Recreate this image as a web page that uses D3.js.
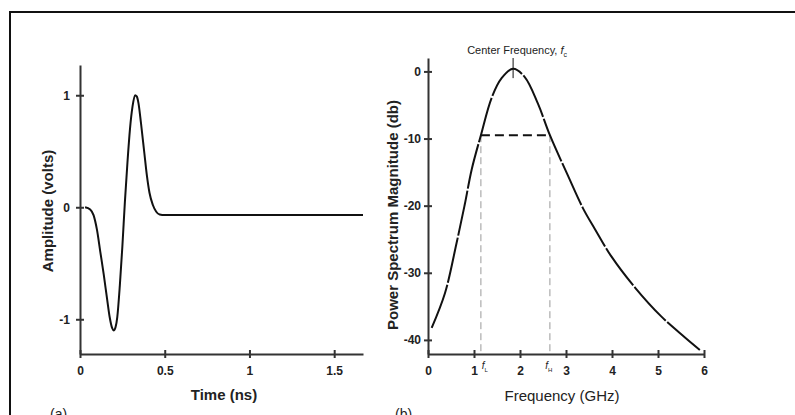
<!DOCTYPE html>
<meta charset="utf-8">
<style>
body { margin: 0; background: #fff; }
svg { display: block; }
.axis path, .axis line { fill: none; stroke: #333; stroke-width: 2px; }
.axis text { font: bold 12px "Liberation Sans Narrow", "Liberation Sans", sans-serif; fill: #222; }
.curve { fill: none; stroke: #111; stroke-width: 2px; }
.title { font-family: "Liberation Sans Narrow", "Liberation Sans", sans-serif; fill: #222; }
</style>
<body>
<svg width="795" height="415"></svg>
<script src="https://cdn.jsdelivr.net/npm/d3@7"></script>
<script>
// (a) pulse in time domain
var pulseTime = [0.03, 0.06, 0.08, 0.10, 0.12, 0.14, 0.16, 0.175, 0.19, 0.20, 0.21, 0.22, 0.235, 0.25, 0.265, 0.28, 0.295, 0.31, 0.325, 0.335, 0.345, 0.36, 0.38, 0.395, 0.41, 0.43, 0.45, 0.47, 0.50, 1.67];
var pulseVolts = [0.0, -0.02, -0.07, -0.20, -0.40, -0.60, -0.82, -0.98, -1.08, -1.10, -1.07, -0.98, -0.70, -0.35, 0.05, 0.40, 0.70, 0.90, 1.0, 0.99, 0.93, 0.75, 0.48, 0.28, 0.13, 0.02, -0.04, -0.065, -0.07, -0.07];
var timeTicks = [0, 0.5, 1, 1.5];
var voltTicks = [-1, 0, 1];

// (b) power spectrum
var specFreq = [0.08, 0.37, 0.62, 0.80, 0.95, 1.15, 1.38, 1.60, 1.85, 2.10, 2.39, 2.65, 3.04, 3.37, 3.63, 3.99, 4.50, 5.07, 5.58, 5.91];
var specDb = [-38.2, -33.0, -25.6, -19.8, -14.6, -9.5, -4.0, -1.0, 0.4, -0.8, -4.8, -9.5, -15.5, -20.4, -23.5, -27.6, -32.2, -36.5, -39.6, -41.5];
var freqTicks = [0, 1, 2, 3, 4, 5, 6];
var dbTicks = [-40, -30, -20, -10, 0];
var fLow = 1.15, fHigh = 2.65, fCenter = 1.85, bandDb = -9.5;

var svg = d3.select("svg");
var plain = function(d) { return String(d); };

// frame
svg.append("path")
    .attr("d", "M10,415V12H795")
    .attr("fill", "none")
    .attr("stroke", "#111")
    .attr("stroke-width", 2);

// ---- left chart ----
var x1 = d3.scaleLinear().domain([0, 1.67]).range([80, 363]);
var y1 = d3.scaleLinear().domain([-1.31, 1.27]).range([354, 65]);

var ax1 = svg.append("g").attr("class", "axis")
    .attr("transform", "translate(0,354)")
    .call(d3.axisBottom(x1).tickValues(timeTicks).tickSize(4).tickPadding(8).tickSizeOuter(0)
      .tickFormat(plain));
ax1.selectAll(".tick line").attr("y1", -4);

var ay1 = svg.append("g").attr("class", "axis")
    .attr("transform", "translate(80,0)")
    .call(d3.axisLeft(y1).tickValues(voltTicks).tickSize(4).tickPadding(6).tickSizeOuter(0)
      .tickFormat(plain));
ay1.selectAll(".tick line").attr("x1", 4);

svg.append("path")
    .datum(d3.zip(pulseTime, pulseVolts))
    .attr("class", "curve")
    .attr("d", d3.line()
      .x(function(d) { return x1(d[0]); })
      .y(function(d) { return y1(d[1]); })
      .curve(d3.curveMonotoneX));

svg.append("text").attr("class", "title")
    .attr("x", 224).attr("y", 400)
    .attr("text-anchor", "middle")
    .style("font-size", "15px").style("font-weight", "bold")
    .text("Time (ns)");

svg.append("text").attr("class", "title")
    .attr("transform", "translate(53,211) rotate(-90)")
    .attr("text-anchor", "middle")
    .style("font-family", "'Liberation Sans', sans-serif")
    .style("font-size", "15px").style("font-weight", "bold")
    .text("Amplitude (volts)");

svg.append("text").attr("class", "title")
    .attr("x", 50).attr("y", 419)
    .style("font-size", "14px")
    .text("(a)");

// ---- right chart ----
var x2 = d3.scaleLinear().domain([0, 6]).range([428, 704]);
var y2 = d3.scaleLinear().domain([-42.1, 2]).range([354, 58]);

var ax2 = svg.append("g").attr("class", "axis")
    .attr("transform", "translate(0,354)")
    .call(d3.axisBottom(x2).tickValues(freqTicks).tickSize(4).tickPadding(8).tickSizeOuter(0)
      .tickFormat(plain));
ax2.selectAll(".tick line").attr("y1", -4);

var ay2 = svg.append("g").attr("class", "axis")
    .attr("transform", "translate(428,0)")
    .call(d3.axisLeft(y2).tickValues(dbTicks).tickSize(4).tickPadding(3).tickSizeOuter(0)
      .tickFormat(plain));
ay2.selectAll(".tick line").attr("x1", 4);

// band edges
svg.selectAll(".edge")
    .data([fLow, fHigh])
  .enter().append("line")
    .attr("class", "edge")
    .attr("x1", function(d) { return x2(d); })
    .attr("x2", function(d) { return x2(d); })
    .attr("y1", y2(bandDb))
    .attr("y2", 353)
    .attr("stroke", "#999")
    .attr("stroke-width", 1)
    .attr("stroke-dasharray", "7,4");

svg.append("line")
    .attr("x1", x2(fLow)).attr("x2", x2(fHigh))
    .attr("y1", y2(bandDb)).attr("y2", y2(bandDb))
    .attr("stroke", "#111")
    .attr("stroke-width", 2)
    .attr("stroke-dasharray", "9,5");

svg.append("path")
    .datum(d3.zip(specFreq, specDb))
    .attr("class", "curve")
    .attr("stroke-dasharray", "46,2")
    .attr("d", d3.line()
      .x(function(d) { return x2(d[0]); })
      .y(function(d) { return y2(d[1]); })
      .curve(d3.curveCatmullRom));

// center frequency marker
svg.append("line")
    .attr("x1", x2(fCenter)).attr("x2", x2(fCenter))
    .attr("y1", y2(2)).attr("y2", y2(-1))
    .attr("stroke", "#111").attr("stroke-width", 1);

var cf = svg.append("text").attr("class", "title")
    .attr("x", x2(fCenter) + 4).attr("y", 54)
    .attr("text-anchor", "middle")
    .style("font-size", "11px");
cf.append("tspan").text("Center Frequency, ");
cf.append("tspan").style("font-style", "italic").text("f");
cf.append("tspan").attr("dy", 3).style("font-size", "7px").text("c");

// f_L and f_H labels
[[fLow, "L", 4], [fHigh, "H", -1]].forEach(function(d) {
  var t = svg.append("text").attr("class", "title")
      .attr("x", x2(d[0]) + d[2]).attr("y", 369)
      .attr("text-anchor", "middle")
      .style("font-size", "10px");
  t.append("tspan").style("font-style", "italic").text("f");
  t.append("tspan").attr("dy", 3).style("font-size", "6px").text(d[1]);
});

svg.append("text").attr("class", "title")
    .attr("x", 562).attr("y", 401)
    .attr("text-anchor", "middle")
    .style("font-size", "15px")
    .text("Frequency (GHz)");

svg.append("text").attr("class", "title")
    .attr("transform", "translate(398,215) rotate(-90)")
    .attr("text-anchor", "middle")
    .style("font-family", "'Liberation Sans', sans-serif")
    .style("font-size", "15px").style("font-weight", "bold")
    .text("Power Spectrum Magnitude (db)");

svg.append("text").attr("class", "title")
    .attr("x", 395).attr("y", 419)
    .style("font-size", "14px")
    .text("(b)");
</script>
</body>
